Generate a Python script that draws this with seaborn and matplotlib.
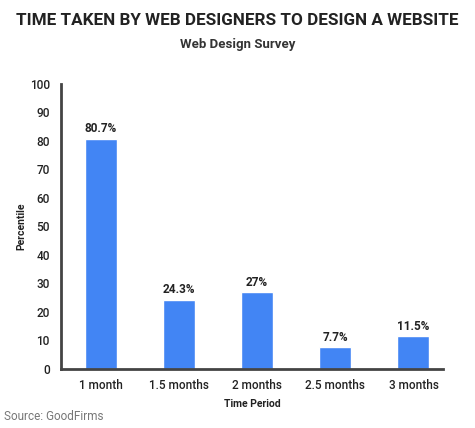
import matplotlib
matplotlib.use("Agg")
import matplotlib.pyplot as plt
import seaborn as sns
import pandas as pd

periods = ["1 month", "1.5 months", "2 months", "2.5 months", "3 months"]
shares = [80.7, 24.3, 27, 7.7, 11.5]
share_labels = ["80.7%", "24.3%", "27%", "7.7%", "11.5%"]

df = pd.DataFrame({"Time Period": periods, "Percentile": shares})

sns.set_theme(style="white")
plt.rcParams["font.family"] = ["Roboto", "DejaVu Sans"]

fig = plt.figure(figsize=(4.75, 4.28), dpi=100)
ax = fig.add_axes([0.128, 0.138, 0.805, 0.666])

sns.barplot(data=df, x="Time Period", y="Percentile", color="#4285f4",
            saturation=1, width=0.41, ax=ax)

for i, (v, lab) in enumerate(zip(shares, share_labels)):
    ax.text(i, v + 1.2, lab, ha="center", va="bottom", fontsize=8.5,
            fontweight="bold", color="#222222")

ax.set_ylim(0, 100)
ax.set_xlim(-0.51, 4.38)
ax.set_yticks(range(0, 101, 10))
ax.tick_params(axis="both", length=0, labelsize=8.5, colors="#222222")
ax.tick_params(axis="y", pad=8)
ax.tick_params(axis="x", pad=7)
for t in ax.get_xticklabels() + ax.get_yticklabels():
    t.set_fontweight("medium")
for side in ["top", "right"]:
    ax.spines[side].set_visible(False)
for side in ["left", "bottom"]:
    ax.spines[side].set_color("#444444")
    ax.spines[side].set_linewidth(2)

ax.set_xlabel("Time Period", fontsize=7.5, fontweight="bold", color="#222222", labelpad=5)
ax.set_ylabel("Percentile", fontsize=7.5, fontweight="bold", color="#222222", labelpad=2)

fig.text(0.5, 0.952, "TIME TAKEN BY WEB DESIGNERS TO DESIGN A WEBSITE",
         ha="center", va="center", fontsize=12.3, fontweight="bold", color="#222222")
fig.text(0.5, 0.897, "Web Design Survey", ha="center", va="center",
         fontsize=9.5, fontweight="bold", color="#333333")
fig.text(0.008, 0.028, "Source: GoodFirms", ha="left", va="center",
         fontsize=8.5, color="#777777")

fig.savefig("out.png", dpi=100)
